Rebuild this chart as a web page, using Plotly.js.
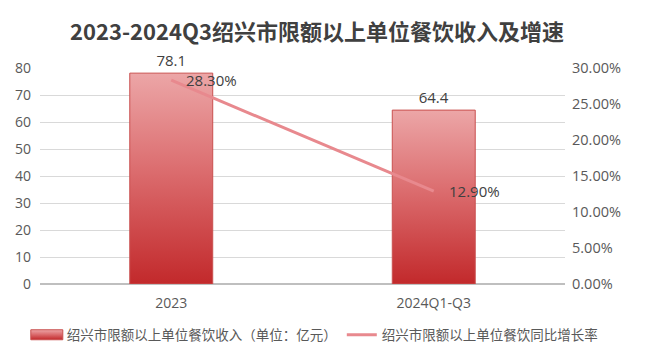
<!DOCTYPE html>
<html><head><meta charset="utf-8">
<script src="https://cdn.plot.ly/plotly-3.0.1.min.js"></script>
<style>html,body{margin:0;padding:0;background:#fff}#chart{width:647px;height:360px}</style>
</head><body><div id="chart"></div>
<script>
const categories = ['2023', '2024Q1-Q3'];
const revenue = [78.1, 64.4];
const growth = [0.283, 0.129];
const barName = '绍兴市限额以上单位餐饮收入（单位：亿元）';
const lineName = '绍兴市限额以上单位餐饮同比增长率';
const leftTicks = [0, 10, 20, 30, 40, 50, 60, 70, 80];
const rightTicks = [0, 0.05, 0.10, 0.15, 0.20, 0.25, 0.30];
const titleText = '2023-2024Q3绍兴市限额以上单位餐饮收入及增速';

const FONT = '"Open Sans", "Noto Sans CJK SC", sans-serif';
const traces = [
  {type: 'bar', x: categories, y: revenue, name: barName,
   text: revenue.map(v => v.toFixed(1)), textposition: 'outside',
   textfont: {family: FONT, size: 15, color: '#404040'}, cliponaxis: false,
   marker: {color: '#d44a4c', line: {color: '#c9504f', width: 1}}, hoverinfo: 'none'},
  {type: 'scatter', mode: 'lines', x: categories, y: growth, yaxis: 'y2', name: lineName,
   line: {color: '#e8898e', width: 3}, hoverinfo: 'none'}
];
const annotations = categories.map((c, i) => ({
  x: i, y: growth[i], xref: 'x', yref: 'y2', text: (growth[i] * 100).toFixed(2) + '%',
  showarrow: false, xanchor: 'left', yanchor: 'middle', xshift: 13,
  font: {family: FONT, size: 15, color: '#404040'}
}));
const layout = {
  width: 647, height: 360,
  margin: {l: 40, r: 82, t: 68, b: 76, autoexpand: false},
  paper_bgcolor: '#fff', plot_bgcolor: '#fff',
  font: {family: FONT, size: 14, color: '#595959'},
  title: {text: titleText, font: {family: '"Noto Sans CJK SC", sans-serif', size: 22, color: '#404040', weight: 'bold'},
          x: 0.49, xanchor: 'center', xref: 'container', y: 1 - 32 / 360, yanchor: 'middle', yref: 'container'},
  bargap: 0.684,
  showlegend: true,
  legend: {orientation: 'h', x: 1.072, xanchor: 'right', y: -0.236, yanchor: 'middle',
           font: {family: FONT, size: 13.5, color: '#595959'}},
  xaxis: {type: 'category', range: [-0.5, 1.5], showgrid: false, zeroline: false, showline: false, ticks: '',
          automargin: false, ticklabelstandoff: 9, tickfont: {family: FONT, size: 14, color: '#595959'}},
  yaxis: {range: [0, 80], tickvals: leftTicks, showgrid: true, gridcolor: '#d9d9d9', gridwidth: 1,
          zeroline: true, zerolinecolor: '#bfbfbf', zerolinewidth: 1.5, showline: false, ticks: '',
          automargin: false, ticklabelstandoff: 8, tickfont: {family: FONT, size: 14, color: '#595959'}},
  yaxis2: {range: [0, 0.3], tickvals: rightTicks, tickformat: '.2%', overlaying: 'y', side: 'right',
           showgrid: false, zeroline: false, showline: false, ticks: '', ticklabelstandoff: 6,
           automargin: false, tickfont: {family: FONT, size: 14.5, color: '#595959'}},
  annotations: annotations
};
Plotly.newPlot('chart', traces, layout, {staticPlot: true}).then(gd => {
  const svg = gd.querySelector('svg.main-svg');
  const ns = 'http://www.w3.org/2000/svg';
  let defs = svg.querySelector('defs');
  if (!defs) { defs = document.createElementNS(ns, 'defs'); svg.insertBefore(defs, svg.firstChild); }
  const g = document.createElementNS(ns, 'linearGradient');
  g.setAttribute('id', 'barGrad'); g.setAttribute('x1', '0'); g.setAttribute('y1', '0');
  g.setAttribute('x2', '0'); g.setAttribute('y2', '1');
  [['0', '#eca6a7'], ['0.45', '#dc6e70'], ['1', '#c2292b']].forEach(([o, c]) => {
    const s = document.createElementNS(ns, 'stop'); s.setAttribute('offset', o); s.setAttribute('stop-color', c); g.appendChild(s);
  });
  defs.appendChild(g);
  gd.querySelectorAll('.barlayer .point path').forEach(p => { p.style.fill = 'url(#barGrad)'; });
  const lp = gd.querySelectorAll('.legend .legendpoints');
  if (lp.length) {
    const bp = lp[0].querySelector('path');
    if (bp) { bp.setAttribute('d', 'M16,5H-16V-5H16Z'); bp.style.fill = 'url(#barGrad)'; }
  }
});
</script>
</body></html>
